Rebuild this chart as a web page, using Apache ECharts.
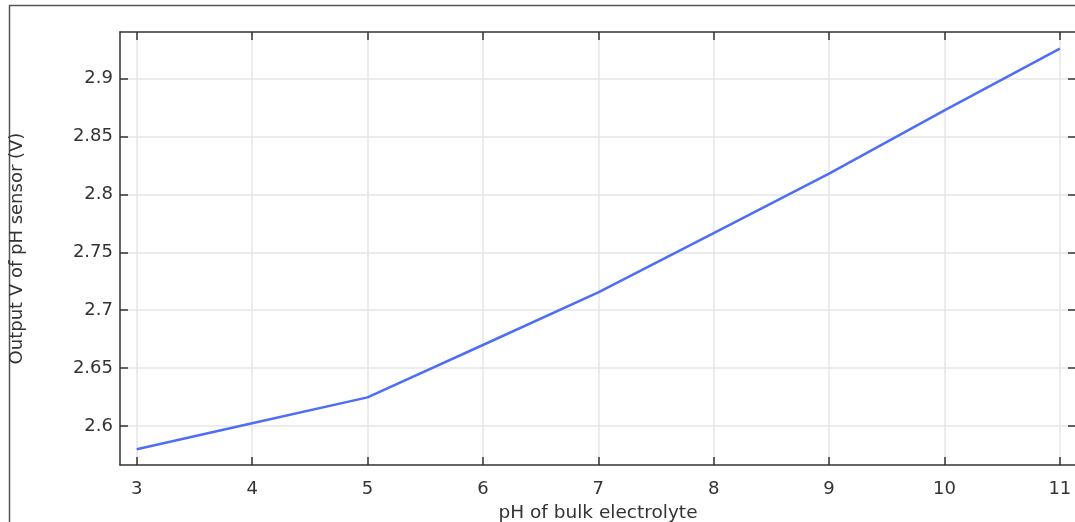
<!DOCTYPE html>
<html>
<head>
<meta charset="utf-8">
<script src="https://cdn.jsdelivr.net/npm/echarts@6/dist/echarts.min.js"></script>
<style>
html,body{margin:0;padding:0;background:#fff;}
#chart{width:1075px;height:522px;}
</style>
</head>
<body>
<div id="chart"></div>
<script>
const phValues = [3, 4, 5, 6, 7, 8, 9, 10, 11];
const outputV = [2.580, 2.6025, 2.6248, 2.6700, 2.7155, 2.7665, 2.8180, 2.8725, 2.9259];
const xTicks = [3, 4, 5, 6, 7, 8, 9, 10, 11];
const yTicks = [2.6, 2.65, 2.7, 2.75, 2.8, 2.85, 2.9];
const xName = 'pH of bulk electrolyte';
const yName = 'Output V of pH sensor (V)';

const chart = echarts.init(document.getElementById('chart'), null, {renderer: 'canvas'});
const font = 'DejaVu Sans';
const axisColor = '#333';
const xMin = 2.855, xMax = 11.14, yMin = 2.5664, yMax = 2.9402;

function xAxisCfg(pos, main) {
  return {
    type: 'value', position: pos, min: xMin, max: xMax,
    name: main ? xName : '', nameLocation: 'middle', nameGap: 39,
    nameTextStyle: {fontFamily: font, fontSize: 18.5, color: axisColor},
    axisLine: {show: true, onZero: false, lineStyle: {color: axisColor, width: 1.5}},
    axisTick: {show: true, inside: true, length: 8, customValues: xTicks, lineStyle: {color: axisColor, width: 1.5}},
    axisLabel: {show: main, customValues: xTicks, margin: 15, fontFamily: font, fontSize: 18, color: axisColor},
    splitLine: {show: main, customValues: xTicks, lineStyle: {color: '#e6e6e6', width: 1.5}}
  };
}
function yAxisCfg(pos, main) {
  return {
    type: 'value', position: pos, min: yMin, max: yMax,
    name: main ? yName : '', nameLocation: 'middle', nameGap: 94,
    nameTextStyle: {fontFamily: font, fontSize: 18, color: axisColor},
    axisLine: {show: true, onZero: false, lineStyle: {color: axisColor, width: 1.5}},
    axisTick: {show: true, inside: true, length: 8, customValues: yTicks, lineStyle: {color: axisColor, width: 1.5}},
    axisLabel: {show: main, customValues: yTicks, margin: 7, fontFamily: font, fontSize: 18, color: axisColor},
    splitLine: {show: main, customValues: yTicks, lineStyle: {color: '#e6e6e6', width: 1.5}}
  };
}

chart.setOption({
  animation: false,
  backgroundColor: '#fff',
  graphic: [{
    type: 'rect', silent: true, z: -10,
    shape: {x: 9.5, y: 5.5, width: 1200, height: 700},
    style: {fill: 'none', stroke: '#555', lineWidth: 1.5}
  }],
  grid: {left: 120, top: 32, width: 956, height: 433, outerBoundsMode: 'none', containLabel: false},
  xAxis: [xAxisCfg('bottom', true), xAxisCfg('top', false)],
  yAxis: [yAxisCfg('left', true), yAxisCfg('right', false)],
  series: [{
    type: 'line',
    data: phValues.map((x, i) => [x, outputV[i]]),
    showSymbol: false,
    lineStyle: {color: '#4f6ef6', width: 2.5},
    itemStyle: {color: '#4f6ef6'}
  }]
});
</script>
</body>
</html>
